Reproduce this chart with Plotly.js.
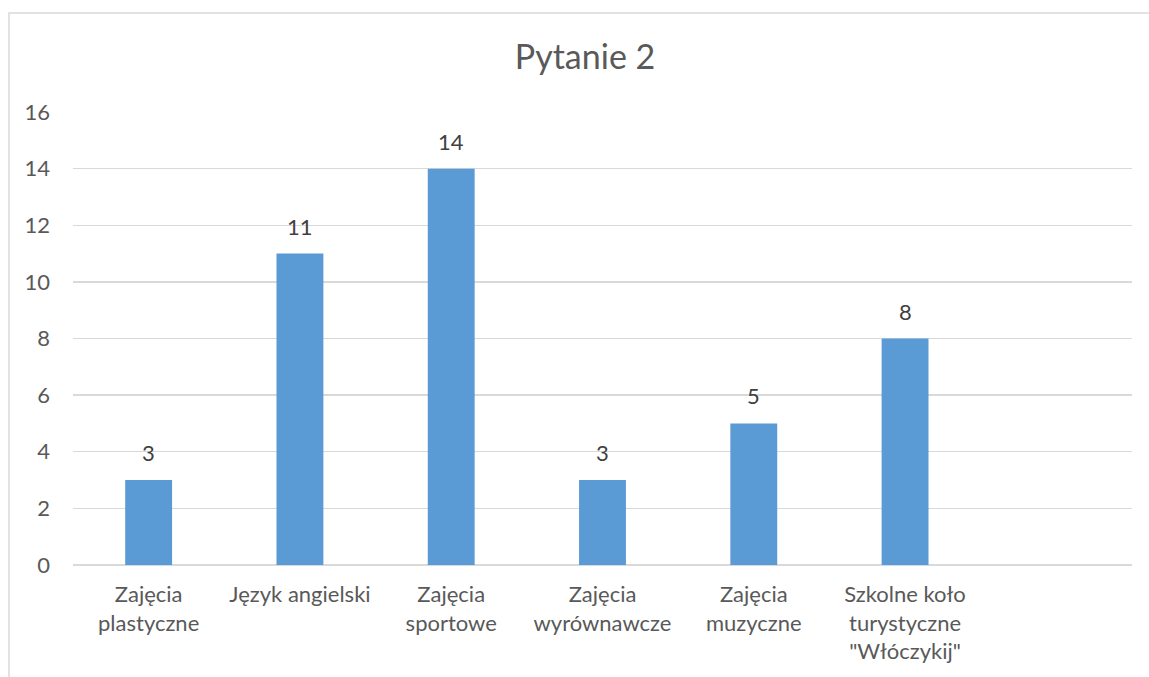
<!DOCTYPE html>
<html>
<head>
<meta charset="utf-8">
<script src="https://cdn.plot.ly/plotly-3.0.1.min.js"></script>
<style>
html,body{margin:0;padding:0;background:#fff;}
#chart{width:1149px;height:677px;}
</style>
</head>
<body>
<div id="chart"></div>
<script>
const categories = [
  "Zajęcia<br>plastyczne",
  "Język angielski",
  "Zajęcia<br>sportowe",
  "Zajęcia<br>wyrównawcze",
  "Zajęcia<br>muzyczne",
  "Szkolne koło<br>turystyczne<br>\"Włóczykij\""
];
const values = [3, 11, 14, 3, 5, 8];
const yTicks = [0, 2, 4, 6, 8, 10, 12, 14, 16];

const FONT = "Lato, 'Liberation Sans', sans-serif";

const trace = {
  type: 'bar',
  x: categories,
  y: values,
  marker: {color: '#5b9bd5'},
  cliponaxis: false,
  hoverinfo: 'x+y'
};

const labelAnnotations = categories.map((c, i) => ({
  x: c,
  y: values[i],
  xref: 'x', yref: 'y',
  text: String(values[i]),
  showarrow: false,
  xanchor: 'center',
  yanchor: 'bottom',
  yshift: 12,
  font: {family: FONT, size: 22, color: '#404040'}
}));

const layout = {
  width: 1149,
  height: 677,
  paper_bgcolor: '#ffffff',
  plot_bgcolor: '#ffffff',
  margin: {l: 73, r: 17, t: 112, b: 112},
  showlegend: false,
  bargap: 0.69,
  font: {family: FONT, color: '#595959'},
  title: {
    text: 'Pytanie 2',
    font: {family: FONT, size: 34, color: '#595959'},
    x: 585 / 1149, xref: 'container', xanchor: 'center',
    y: 1 - 57 / 677, yanchor: 'middle'
  },
  xaxis: {
    type: 'category',
    range: [-0.5, 6.5],
    showgrid: false,
    zeroline: false,
    showline: false,
    ticks: '',
    ticklabelstandoff: 14,
    tickfont: {family: FONT, size: 22, color: '#595959'},
    fixedrange: true
  },
  yaxis: {
    range: [0, 16],
    tickvals: yTicks,
    showgrid: true,
    gridcolor: '#d9d9d9',
    gridwidth: 1.3,
    zeroline: true,
    zerolinecolor: '#d9d9d9',
    zerolinewidth: 1.3,
    showline: false,
    ticks: '',
    ticklabelstandoff: 22,
    tickfont: {family: FONT, size: 22, color: '#595959'},
    fixedrange: true
  },
  annotations: labelAnnotations,
  shapes: [{
    type: 'rect',
    xref: 'paper', yref: 'paper',
    x0: (9 - 73) / 1059, x1: 1.05,
    y0: -0.4, y1: (565 - 13) / 453,
    line: {color: '#d9d9d9', width: 1.5},
    fillcolor: 'rgba(0,0,0,0)',
    layer: 'below'
  }]
};

Plotly.newPlot('chart', [trace], layout, {displayModeBar: false, staticPlot: true});
</script>
</body>
</html>
